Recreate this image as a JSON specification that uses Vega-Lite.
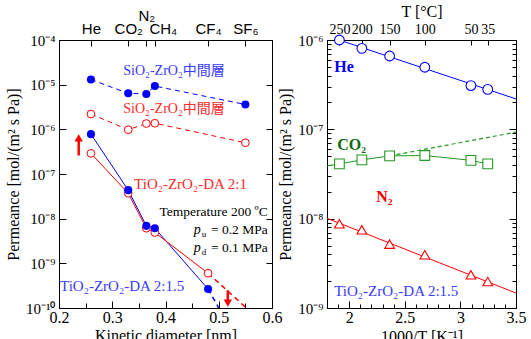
{
  "$schema": "https://vega.github.io/schema/vega-lite/v6.json",
  "padding": {"left": 5, "right": 3, "top": 2, "bottom": 5},
  "spacing": -6,
  "config": {
    "font": "Liberation Serif",
    "view": {"stroke": "black", "strokeWidth": 1},
    "axis": {"grid": false, "domainColor": "black", "tickColor": "black", "labelColor": "black", "titleColor": "black", "labelFont": "Liberation Serif", "titleFont": "Liberation Serif", "titleFontWeight": "normal", "labelFontSize": 15, "titleFontSize": 16, "labelOverlap": false, "labelFlush": false, "tickWidth": 1}
  },
  "datasets": {
    "left": [
      {"m": "2:1.5", "layer": "inter", "d": 0.26, "p": 1.3e-5},
      {"m": "2:1.5", "layer": "inter", "d": 0.33, "p": 6.4e-6},
      {"m": "2:1.5", "layer": "inter", "d": 0.364, "p": 6.2e-6},
      {"m": "2:1.5", "layer": "inter", "d": 0.38, "p": 9.3e-6},
      {"m": "2:1.5", "layer": "inter", "d": 0.55, "p": 3.6e-6},
      {"m": "2:1", "layer": "inter", "d": 0.26, "p": 2.2e-6},
      {"m": "2:1", "layer": "inter", "d": 0.33, "p": 9.8e-7},
      {"m": "2:1", "layer": "inter", "d": 0.364, "p": 1.35e-6},
      {"m": "2:1", "layer": "inter", "d": 0.38, "p": 1.37e-6},
      {"m": "2:1", "layer": "inter", "d": 0.55, "p": 5.0e-7},
      {"m": "2:1.5", "layer": "da", "d": 0.26, "p": 7.8e-7},
      {"m": "2:1.5", "layer": "da", "d": 0.33, "p": 4.35e-8},
      {"m": "2:1.5", "layer": "da", "d": 0.364, "p": 6.9e-9},
      {"m": "2:1.5", "layer": "da", "d": 0.38, "p": 6.1e-9},
      {"m": "2:1.5", "layer": "da", "d": 0.48, "p": 2.66e-10},
      {"m": "2:1", "layer": "da", "d": 0.26, "p": 2.9e-7},
      {"m": "2:1", "layer": "da", "d": 0.33, "p": 3.7e-8},
      {"m": "2:1", "layer": "da", "d": 0.364, "p": 6.1e-9},
      {"m": "2:1", "layer": "da", "d": 0.38, "p": 4.9e-9},
      {"m": "2:1", "layer": "da", "d": 0.48, "p": 6.0e-10}
    ],
    "leftExt": [
      {"m": "2:1.5", "d": 0.48, "p": 2.66e-10},
      {"m": "2:1.5", "d": 0.5, "p": 1.0e-10},
      {"m": "2:1", "d": 0.48, "p": 6.0e-10},
      {"m": "2:1", "d": 0.55, "p": 1.05e-10}
    ],
    "right": [
      {"g": "He", "x": 1.9115, "p": 1.0e-6},
      {"g": "He", "x": 2.1135, "p": 8.07e-7},
      {"g": "He", "x": 2.3632, "p": 6.62e-7},
      {"g": "He", "x": 2.6799, "p": 4.95e-7},
      {"g": "He", "x": 3.0945, "p": 3.09e-7},
      {"g": "He", "x": 3.2457, "p": 2.8e-7},
      {"g": "CO2", "x": 1.9115, "p": 4.1e-8},
      {"g": "CO2", "x": 2.1135, "p": 4.55e-8},
      {"g": "CO2", "x": 2.3632, "p": 5.04e-8},
      {"g": "CO2", "x": 2.6799, "p": 5.09e-8},
      {"g": "CO2", "x": 3.0945, "p": 4.5e-8},
      {"g": "CO2", "x": 3.2457, "p": 4.1e-8},
      {"g": "N2", "x": 1.9115, "p": 8.75e-9},
      {"g": "N2", "x": 2.1135, "p": 7.5e-9},
      {"g": "N2", "x": 2.3632, "p": 5.19e-9},
      {"g": "N2", "x": 2.6799, "p": 3.94e-9},
      {"g": "N2", "x": 3.0945, "p": 2.35e-9},
      {"g": "N2", "x": 3.2457, "p": 1.98e-9}
    ],
    "rfit": [
      {"g": "He", "x": 1.8, "p": 1.11e-6},
      {"g": "He", "x": 3.5, "p": 2.19e-7},
      {"g": "N2", "x": 1.8, "p": 1.01e-8},
      {"g": "N2", "x": 3.5, "p": 1.47e-9}
    ],
    "co2line": [
      {"x": 1.8, "p": 3.9e-8},
      {"x": 1.9115, "p": 4.1e-8},
      {"x": 2.1135, "p": 4.55e-8},
      {"x": 2.3632, "p": 5.04e-8},
      {"x": 2.6799, "p": 5.09e-8},
      {"x": 3.0945, "p": 4.5e-8},
      {"x": 3.2457, "p": 4.1e-8}
    ],
    "co2dash": [
      {"x": 2.3632, "p": 5.04e-8},
      {"x": 3.5, "p": 9.3e-8}
    ]
  },
  "hconcat": [
    {
      "width": 213,
      "height": 268,
      "resolve": {"axis": {"x": "independent", "y": "independent"}},
      "layer": [
        {
          "data": {"name": "left"},
          "transform": [{"filter": "datum.layer == 'inter'"}],
          "mark": {"type": "line", "strokeDash": [5, 4], "strokeWidth": 1},
          "encoding": {
            "x": {"field": "d", "type": "quantitative", "scale": {"domain": [0.2, 0.6], "nice": false, "zero": false},
              "axis": {"orient": "bottom", "values": [0.2, 0.25, 0.3, 0.35, 0.4, 0.45, 0.5, 0.55, 0.6],
                "labelExpr": "abs(datum.value*10-round(datum.value*10))<1e-6 ? format(datum.value,'.1f') : ''",
                "tickSize": {"condition": {"test": "abs(datum.value*10-round(datum.value*10))<1e-6", "value": -7}, "value": -5},
                "labelPadding": 8, "labelFontSize": 16, "title": "Kinetic diameter [nm]", "titlePadding": 0}},
            "y": {"field": "p", "type": "quantitative", "scale": {"type": "log", "domain": [1e-10, 1e-4], "nice": false},
              "axis": {"orient": "left", "values": [1e-10, 1e-9, 1e-8, 1e-7, 1e-6, 1e-5, 1e-4],
                "labelExpr": "round(-log(datum.value)/LN10) == 10 ? '10⁻¹⁰' : '10⁻' + ['⁰','¹','²','³','⁴','⁵','⁶','⁷','⁸','⁹'][round(-log(datum.value)/LN10)]",
                "tickSize": -7, "labelPadding": 11, "title": "Permeance [mol/(m² s Pa)]", "titlePadding": 4}},
            "color": {"field": "m", "type": "nominal", "scale": {"domain": ["2:1.5", "2:1"], "range": ["#0000ff", "#ff0000"]}, "legend": null}
          }
        },
        {
          "data": {"name": "left"},
          "transform": [{"filter": "datum.layer == 'da'"}],
          "mark": {"type": "line", "strokeWidth": 1},
          "encoding": {
            "x": {"field": "d", "type": "quantitative", "scale": {"domain": [0.2, 0.6], "nice": false, "zero": false},
              "axis": {"orient": "top", "values": [0.26, 0.33, 0.364, 0.38, 0.48, 0.55],
                "labelExpr": "datum.value < 0.3 ? 'He' : datum.value < 0.35 ? 'CO₂' : datum.value < 0.37 ? 'N₂' : datum.value < 0.4 ? 'CH₄' : datum.value < 0.5 ? 'CF₄' : 'SF₆'",
                "labelFont": "Liberation Sans", "labelFontSize": 15, "tickSize": -6,
                "labelPadding": {"condition": {"test": "datum.value == 0.364", "value": 23}, "value": 10},
                "labelOffset": {"condition": {"test": "datum.value == 0.38", "value": 8}, "value": 0},
                "title": null}},
            "y": {"field": "p", "type": "quantitative", "scale": {"type": "log", "domain": [1e-10, 1e-4], "nice": false},
              "axis": {"orient": "right", "values": [1e-10, 1e-9, 1e-8, 1e-7, 1e-6, 1e-5, 1e-4], "labels": false, "tickSize": -6, "title": null}},
            "color": {"field": "m", "type": "nominal", "scale": {"domain": ["2:1.5", "2:1"], "range": ["#0000ff", "#ff0000"]}, "legend": null}
          }
        },
        {
          "data": {"name": "leftExt"},
          "mark": {"type": "line", "strokeDash": [5, 4], "strokeWidth": 1.5, "clip": true},
          "encoding": {
            "x": {"field": "d", "type": "quantitative", "scale": {"domain": [0.2, 0.6], "nice": false, "zero": false}, "axis": null},
            "y": {"field": "p", "type": "quantitative", "scale": {"type": "log", "domain": [1e-10, 1e-4], "nice": false}, "axis": null},
            "color": {"field": "m", "type": "nominal", "scale": {"domain": ["2:1.5", "2:1"], "range": ["#0000ff", "#ff0000"]}, "legend": null}
          }
        },
        {
          "data": {"name": "left"},
          "transform": [{"filter": "datum.m == '2:1'"}],
          "mark": {"type": "point", "filled": false, "fill": "white", "fillOpacity": 1, "stroke": "#ff0000", "strokeWidth": 1, "size": 60, "opacity": 1},
          "encoding": {
            "x": {"field": "d", "type": "quantitative", "scale": {"domain": [0.2, 0.6], "nice": false, "zero": false}, "axis": null},
            "y": {"field": "p", "type": "quantitative", "scale": {"type": "log", "domain": [1e-10, 1e-4], "nice": false}, "axis": null}
          }
        },
        {
          "data": {"name": "left"},
          "transform": [{"filter": "datum.m == '2:1.5'"}],
          "mark": {"type": "point", "filled": true, "color": "#0000ff", "size": 65, "opacity": 1},
          "encoding": {
            "x": {"field": "d", "type": "quantitative", "scale": {"domain": [0.2, 0.6], "nice": false, "zero": false}, "axis": null},
            "y": {"field": "p", "type": "quantitative", "scale": {"type": "log", "domain": [1e-10, 1e-4], "nice": false}, "axis": null}
          }
        },
        {
          "data": {"values": [{"x": 0.237, "y": 2.6e-7, "y2": 6.3e-7}, {"x": 0.517, "y": 2.5e-10, "y2": 1.3e-10}]},
          "mark": {"type": "rule", "color": "#ff0000", "strokeWidth": 2.5},
          "encoding": {
            "x": {"field": "x", "type": "quantitative", "scale": {"domain": [0.2, 0.6], "nice": false, "zero": false}, "axis": null},
            "y": {"field": "y", "type": "quantitative", "scale": {"type": "log", "domain": [1e-10, 1e-4], "nice": false}, "axis": null},
            "y2": {"field": "y2"}
          }
        },
        {
          "data": {"values": [{"x": 0.237, "y": 6.4e-7}]},
          "mark": {"type": "point", "shape": "triangle-up", "filled": true, "color": "#ff0000", "size": 70, "opacity": 1},
          "encoding": {
            "x": {"field": "x", "type": "quantitative", "scale": {"domain": [0.2, 0.6], "nice": false, "zero": false}, "axis": null},
            "y": {"field": "y", "type": "quantitative", "scale": {"type": "log", "domain": [1e-10, 1e-4], "nice": false}, "axis": null}
          }
        },
        {
          "data": {"values": [{"x": 0.517, "y": 1.28e-10}]},
          "mark": {"type": "point", "shape": "triangle-down", "filled": true, "color": "#ff0000", "size": 70, "opacity": 1},
          "encoding": {
            "x": {"field": "x", "type": "quantitative", "scale": {"domain": [0.2, 0.6], "nice": false, "zero": false}, "axis": null},
            "y": {"field": "y", "type": "quantitative", "scale": {"type": "log", "domain": [1e-10, 1e-4], "nice": false}, "axis": null}
          }
        },
        {
          "data": {"values": [{"x": 0.416, "y": 2.0e-5, "t": "SiO₂-ZrO₂中間層"}]},
          "mark": {"type": "text", "align": "center", "baseline": "middle", "fontSize": 14, "font": "Liberation Serif, Noto Sans CJK JP", "color": "#3a3aff"},
          "encoding": {
            "x": {"field": "x", "type": "quantitative", "scale": {"domain": [0.2, 0.6], "nice": false, "zero": false}, "axis": null},
            "y": {"field": "y", "type": "quantitative", "scale": {"type": "log", "domain": [1e-10, 1e-4], "nice": false}, "axis": null},
            "text": {"field": "t"}
          }
        },
        {
          "data": {"values": [{"x": 0.416, "y": 2.8e-6, "t": "SiO₂-ZrO₂中間層"}]},
          "mark": {"type": "text", "align": "center", "baseline": "middle", "fontSize": 14, "font": "Liberation Serif, Noto Sans CJK JP", "color": "#ff2a2a"},
          "encoding": {
            "x": {"field": "x", "type": "quantitative", "scale": {"domain": [0.2, 0.6], "nice": false, "zero": false}, "axis": null},
            "y": {"field": "y", "type": "quantitative", "scale": {"type": "log", "domain": [1e-10, 1e-4], "nice": false}, "axis": null},
            "text": {"field": "t"}
          }
        },
        {
          "data": {"values": [{"x": 0.341, "y": 5.93e-8, "t": "TiO₂-ZrO₂-DA 2:1"}]},
          "mark": {"type": "text", "align": "left", "baseline": "middle", "fontSize": 15, "color": "#ff2a2a"},
          "encoding": {
            "x": {"field": "x", "type": "quantitative", "scale": {"domain": [0.2, 0.6], "nice": false, "zero": false}, "axis": null},
            "y": {"field": "y", "type": "quantitative", "scale": {"type": "log", "domain": [1e-10, 1e-4], "nice": false}, "axis": null},
            "text": {"field": "t"}
          }
        },
        {
          "data": {"values": [{"x": 0.202, "y": 3.11e-10, "t": "TiO₂-ZrO₂-DA 2:1.5"}]},
          "mark": {"type": "text", "align": "left", "baseline": "middle", "fontSize": 15, "color": "#3a3aff"},
          "encoding": {
            "x": {"field": "x", "type": "quantitative", "scale": {"domain": [0.2, 0.6], "nice": false, "zero": false}, "axis": null},
            "y": {"field": "y", "type": "quantitative", "scale": {"type": "log", "domain": [1e-10, 1e-4], "nice": false}, "axis": null},
            "text": {"field": "t"}
          }
        },
        {
          "data": {"values": [{"x": 0.592, "y": 1.4e-8, "t": "Temperature 200 ºC"}, {"x": 0.592, "y": 5.56e-9, "t": "= 0.2 MPa"}, {"x": 0.592, "y": 2.2e-9, "t": "= 0.1 MPa"}]},
          "mark": {"type": "text", "align": "right", "baseline": "middle", "fontSize": 13.5, "color": "black"},
          "encoding": {
            "x": {"field": "x", "type": "quantitative", "scale": {"domain": [0.2, 0.6], "nice": false, "zero": false}, "axis": null},
            "y": {"field": "y", "type": "quantitative", "scale": {"type": "log", "domain": [1e-10, 1e-4], "nice": false}, "axis": null},
            "text": {"field": "t"}
          }
        },
        {
          "data": {"values": [{"x": 0.592, "y": 5.56e-9, "t": "p"}, {"x": 0.592, "y": 2.2e-9, "t": "p"}]},
          "mark": {"type": "text", "align": "right", "baseline": "middle", "fontSize": 14, "fontStyle": "italic", "dx": -67, "color": "black"},
          "encoding": {
            "x": {"field": "x", "type": "quantitative", "scale": {"domain": [0.2, 0.6], "nice": false, "zero": false}, "axis": null},
            "y": {"field": "y", "type": "quantitative", "scale": {"type": "log", "domain": [1e-10, 1e-4], "nice": false}, "axis": null},
            "text": {"field": "t"}
          }
        },
        {
          "data": {"values": [{"x": 0.592, "y": 5.56e-9, "t": "u"}, {"x": 0.592, "y": 2.2e-9, "t": "d"}]},
          "mark": {"type": "text", "align": "left", "baseline": "middle", "fontSize": 9, "dx": -66, "dy": 4, "color": "black"},
          "encoding": {
            "x": {"field": "x", "type": "quantitative", "scale": {"domain": [0.2, 0.6], "nice": false, "zero": false}, "axis": null},
            "y": {"field": "y", "type": "quantitative", "scale": {"type": "log", "domain": [1e-10, 1e-4], "nice": false}, "axis": null},
            "text": {"field": "t"}
          }
        }
      ]
    },
    {
      "width": 189,
      "height": 268,
      "resolve": {"axis": {"x": "independent", "y": "independent"}},
      "layer": [
        {
          "data": {"name": "rfit"},
          "transform": [{"filter": "datum.g == 'He'"}],
          "mark": {"type": "line", "color": "#0000ff", "strokeWidth": 1, "clip": true},
          "encoding": {
            "x": {"field": "x", "type": "quantitative", "scale": {"domain": [1.8, 3.5], "nice": false, "zero": false},
              "axis": {"orient": "bottom", "values": [1.9, 2, 2.1, 2.2, 2.3, 2.4, 2.5, 2.6, 2.7, 2.8, 2.9, 3, 3.1, 3.2, 3.3, 3.4, 3.5],
                "labelExpr": "abs(datum.value*2-round(datum.value*2))<1e-6 ? format(datum.value,'~g') : ''",
                "tickSize": {"condition": {"test": "abs(datum.value*2-round(datum.value*2))<1e-6", "value": -7}, "value": -4},
                "labelPadding": 8, "labelFontSize": 16, "title": "1000/T [K⁻¹]", "titlePadding": 0}},
            "y": {"field": "p", "type": "quantitative", "scale": {"type": "log", "domain": [1e-9, 1e-6], "nice": false},
              "axis": {"orient": "left",
                "values": [1e-9, 2e-9, 3e-9, 4e-9, 5e-9, 6e-9, 7e-9, 8e-9, 9e-9, 1e-8, 2e-8, 3e-8, 4e-8, 5e-8, 6e-8, 7e-8, 8e-8, 9e-8, 1e-7, 2e-7, 3e-7, 4e-7, 5e-7, 6e-7, 7e-7, 8e-7, 9e-7, 1e-6],
                "labelExpr": "abs(log(datum.value)/LN10 - round(log(datum.value)/LN10)) < 1e-6 ? '10⁻' + ['⁰','¹','²','³','⁴','⁵','⁶','⁷','⁸','⁹'][round(-log(datum.value)/LN10)] : ''",
                "tickSize": {"condition": {"test": "abs(log(datum.value)/LN10 - round(log(datum.value)/LN10)) < 1e-6", "value": -7}, "value": -4},
                "labelPadding": 11, "title": "Permeance [mol/(m² s Pa)]", "titlePadding": 4}}
          }
        },
        {
          "data": {"name": "rfit"},
          "transform": [{"filter": "datum.g == 'N2'"}],
          "mark": {"type": "line", "color": "#ff0000", "strokeWidth": 1, "clip": true},
          "encoding": {
            "x": {"field": "x", "type": "quantitative", "scale": {"domain": [1.8, 3.5], "nice": false, "zero": false},
              "axis": {"orient": "top", "values": [1.9115, 2.1135, 2.3632, 2.6799, 3.0945, 3.2457],
                "labelExpr": "format(round(1000/datum.value - 273.15), 'd')",
                "tickSize": -5, "labelPadding": 9, "labelFontSize": 14, "title": "T [°C]", "titlePadding": 3}},
            "y": {"field": "p", "type": "quantitative", "scale": {"type": "log", "domain": [1e-9, 1e-6], "nice": false},
              "axis": {"orient": "right", "labels": false, "title": null,
                "values": [1e-9, 2e-9, 3e-9, 4e-9, 5e-9, 6e-9, 7e-9, 8e-9, 9e-9, 1e-8, 2e-8, 3e-8, 4e-8, 5e-8, 6e-8, 7e-8, 8e-8, 9e-8, 1e-7, 2e-7, 3e-7, 4e-7, 5e-7, 6e-7, 7e-7, 8e-7, 9e-7, 1e-6],
                "tickSize": {"condition": {"test": "abs(log(datum.value)/LN10 - round(log(datum.value)/LN10)) < 1e-6", "value": -7}, "value": -4}}}
          }
        },
        {
          "data": {"name": "co2line"},
          "mark": {"type": "line", "color": "#229922", "strokeWidth": 1, "clip": true},
          "encoding": {
            "x": {"field": "x", "type": "quantitative", "scale": {"domain": [1.8, 3.5], "nice": false, "zero": false}, "axis": null},
            "y": {"field": "p", "type": "quantitative", "scale": {"type": "log", "domain": [1e-9, 1e-6], "nice": false}, "axis": null}
          }
        },
        {
          "data": {"name": "co2dash"},
          "mark": {"type": "line", "color": "#229922", "strokeWidth": 1.2, "strokeDash": [4, 3], "clip": true},
          "encoding": {
            "x": {"field": "x", "type": "quantitative", "scale": {"domain": [1.8, 3.5], "nice": false, "zero": false}, "axis": null},
            "y": {"field": "p", "type": "quantitative", "scale": {"type": "log", "domain": [1e-9, 1e-6], "nice": false}, "axis": null}
          }
        },
        {
          "data": {"name": "right"},
          "mark": {"type": "point", "filled": false, "fill": "white", "fillOpacity": 1, "strokeWidth": 1.1, "size": 95, "opacity": 1},
          "encoding": {
            "x": {"field": "x", "type": "quantitative", "scale": {"domain": [1.8, 3.5], "nice": false, "zero": false}, "axis": null},
            "y": {"field": "p", "type": "quantitative", "scale": {"type": "log", "domain": [1e-9, 1e-6], "nice": false}, "axis": null},
            "stroke": {"field": "g", "type": "nominal", "scale": {"domain": ["He", "CO2", "N2"], "range": ["#0000ff", "#229922", "#ff0000"]}, "legend": null},
            "shape": {"field": "g", "type": "nominal", "scale": {"domain": ["He", "CO2", "N2"], "range": ["circle", "square", "triangle-up"]}, "legend": null}
          }
        },
        {
          "data": {"values": [{"x": 1.865, "y": 4.95e-7, "t": "He"}]},
          "mark": {"type": "text", "align": "left", "baseline": "middle", "fontSize": 16, "fontWeight": "bold", "color": "#0000ee"},
          "encoding": {
            "x": {"field": "x", "type": "quantitative", "scale": {"domain": [1.8, 3.5], "nice": false, "zero": false}, "axis": null},
            "y": {"field": "y", "type": "quantitative", "scale": {"type": "log", "domain": [1e-9, 1e-6], "nice": false}, "axis": null},
            "text": {"field": "t"}
          }
        },
        {
          "data": {"values": [{"x": 1.892, "y": 6.64e-8, "t": "CO₂"}]},
          "mark": {"type": "text", "align": "left", "baseline": "middle", "fontSize": 16, "fontWeight": "bold", "color": "#0b6e0b"},
          "encoding": {
            "x": {"field": "x", "type": "quantitative", "scale": {"domain": [1.8, 3.5], "nice": false, "zero": false}, "axis": null},
            "y": {"field": "y", "type": "quantitative", "scale": {"type": "log", "domain": [1e-9, 1e-6], "nice": false}, "axis": null},
            "text": {"field": "t"}
          }
        },
        {
          "data": {"values": [{"x": 2.243, "y": 1.74e-8, "t": "N₂"}]},
          "mark": {"type": "text", "align": "left", "baseline": "middle", "fontSize": 16, "fontWeight": "bold", "color": "#ee0000"},
          "encoding": {
            "x": {"field": "x", "type": "quantitative", "scale": {"domain": [1.8, 3.5], "nice": false, "zero": false}, "axis": null},
            "y": {"field": "y", "type": "quantitative", "scale": {"type": "log", "domain": [1e-9, 1e-6], "nice": false}, "axis": null},
            "text": {"field": "t"}
          }
        },
        {
          "data": {"values": [{"x": 1.865, "y": 1.55e-9, "t": "TiO₂-ZrO₂-DA 2:1.5"}]},
          "mark": {"type": "text", "align": "left", "baseline": "middle", "fontSize": 15, "color": "#3a3aff"},
          "encoding": {
            "x": {"field": "x", "type": "quantitative", "scale": {"domain": [1.8, 3.5], "nice": false, "zero": false}, "axis": null},
            "y": {"field": "y", "type": "quantitative", "scale": {"type": "log", "domain": [1e-9, 1e-6], "nice": false}, "axis": null},
            "text": {"field": "t"}
          }
        }
      ]
    }
  ]
}
